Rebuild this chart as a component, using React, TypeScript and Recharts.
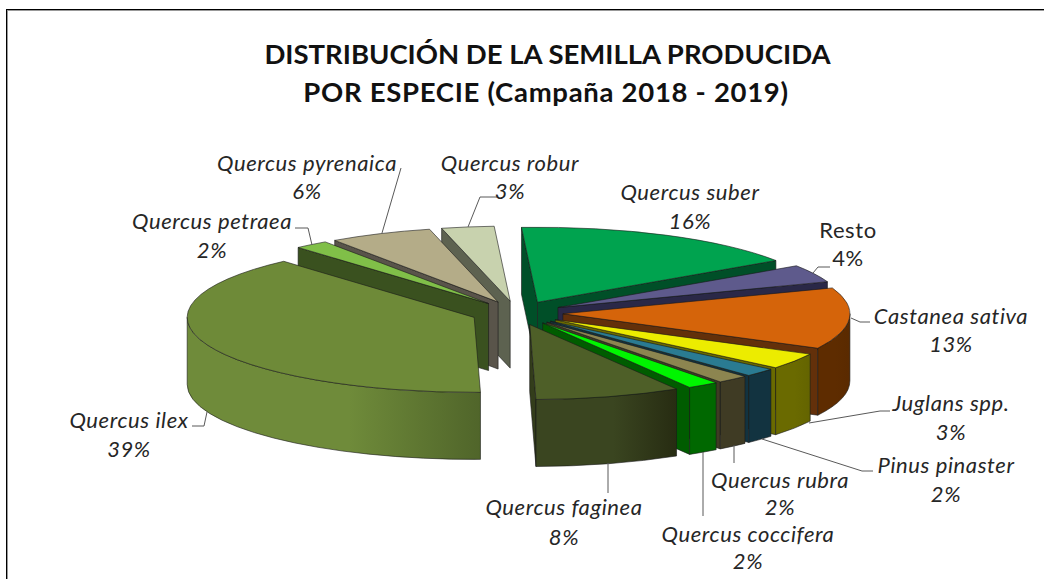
import { PieChart, Pie } from "recharts";

const species = [
  "Quercus suber",
  "Resto",
  "Castanea sativa",
  "Juglans spp.",
  "Pinus pinaster",
  "Quercus rubra",
  "Quercus coccifera",
  "Quercus faginea",
  "Quercus ilex",
  "Quercus petraea",
  "Quercus pyrenaica",
  "Quercus robur",
];
// the labels show them rounded
const shares = [16.49, 3.8, 13.2, 3.47, 1.8, 1.8, 1.78, 8.2, 38.8, 1.91, 5.8, 2.95];

const topColors = ["#00a34f", "#5e5a8c", "#d5640a", "#ecec00", "#2a7b92", "#8c8550", "#00f500", "#4e5f28", "#6e8a38", "#80bf48", "#b4ac88", "#c8d2ae"];
const faceColors = ["#004f28", "#2a2847", "#63300a", "#6a6a00", "#123340", "#3f3b24", "#005c00", "#333d1b", "#52672a", "#3a511f", "#59544a", "#5d6250"];
const wallLeft = ["#004f28", "#2a2847", "#5e2c00", "#6a6a00", "#123340", "#3f3b24", "#006800", "#3a4520", "#6f8b3a", "#3a511f", "#59544a", "#5d6250"];
const wallRight = ["#004f28", "#2a2847", "#5a2a00", "#646400", "#123340", "#3f3b24", "#006800", "#272c12", "#50652a", "#3a511f", "#59544a", "#5d6250"];

// label centre x, y of both text rows, then the leader line
const labelX = [690, 848, 951, 951, 946, 780, 748, 564, 129, 212, 307, 510];
const labelRow1 = [191, 229, 315, 402, 464, 479, 533, 506, 419, 220, 162, 162];
const labelRow2 = [220, 257, 343, 431, 493, 506, 560, 536, 448, 249, 190, 190];
const leaders = [
  "",
  "813,273 818,267 830,267",
  "851,318 860,322 870,322",
  "809,423 880,411 890,411",
  "762,439 862,471 873,471",
  "734,445 734,463",
  "703,452 703,516",
  "608,463 608,493",
  "207,412 204,426 192,426",
  "312,245 308,228 295,228",
  "382,233 401,168",
  "468,227 480,197 497,197",
];

const tableFwd = species.map((name, i) => ({ name, value: shares[i] }));
const tableRev = [...tableFwd].reverse();
const backLeft = new Set(species.slice(8));

const SQUASH = 0.2613;
const EXPLODE = 46;
const DEPTH = 67;
const rad = (d: number) => (d * Math.PI) / 180;

function Slice3D(props: any) {
  const { cx, cy, outerRadius: R, startAngle, endAngle, name } = props;
  const i = species.indexOf(name);
  const a = 90 - Math.max(startAngle, endAngle);
  const b = 90 - Math.min(startAngle, endAngle);
  const mid = (a + b) / 2;
  const ox = cx + EXPLODE * Math.sin(rad(mid));
  const oy = cy - EXPLODE * SQUASH * Math.cos(rad(mid));
  const px = (t: number) => ox + R * Math.sin(rad(t));
  const py = (t: number) => oy - R * SQUASH * Math.cos(rad(t));
  const ry = R * SQUASH;
  const arc = (t0: number, t1: number, dy: number, sweep: number) =>
    `A${R} ${ry} 0 ${Math.abs(t1 - t0) > 180 ? 1 : 0} ${sweep} ${px(t1)} ${py(t1) + dy}`;
  const face = (t: number) =>
    `M${ox} ${oy}L${px(t)} ${py(t)}L${px(t)} ${py(t) + DEPTH}L${ox} ${oy + DEPTH}Z`;
  const w0 = Math.max(a, 90);
  const w1 = Math.min(b, 270);
  const stroke = { stroke: "#1a1a1a", strokeWidth: 0.8, strokeOpacity: 0.75, strokeLinejoin: "round" as const };
  const gid = `wall-${i}-${props.tag}`;
  return (
    <g>
      <defs>
        <linearGradient id={gid} x1="0" x2="1" y1="0" y2="0">
          <stop offset="0%" stopColor={wallLeft[i]} />
          <stop offset="55%" stopColor={wallLeft[i]} />
          <stop offset="100%" stopColor={wallRight[i]} />
        </linearGradient>
      </defs>
      {Math.sin(rad(a)) < 0 && <path d={face(a)} fill={faceColors[i]} {...stroke} />}
      {Math.sin(rad(b)) > 0 && <path d={face(b)} fill={faceColors[i]} {...stroke} />}
      {w1 > w0 && (
        <path
          d={`M${px(w0)} ${py(w0)}${arc(w0, w1, 0, 1)}L${px(w1)} ${py(w1) + DEPTH}${arc(w1, w0, DEPTH, 0)}Z`}
          fill={`url(#${gid})`}
          {...stroke}
        />
      )}
      <path d={`M${ox} ${oy}L${px(a)} ${py(a)}${arc(a, b, 0, 1)}Z`} fill={topColors[i]} {...stroke} />
    </g>
  );
}

// right hand slices paint clockwise, left hand ones counter clockwise, so nearer slices cover the ones behind
const frontShape = (p: any) => (backLeft.has(p.name) ? <g /> : <Slice3D {...p} tag="r" />);
const backShape = (p: any) => (backLeft.has(p.name) ? <Slice3D {...p} tag="l" /> : <g />);

function renderLabel(p: any) {
  const i = species.indexOf(p.name);
  const fontStyle = p.name === "Resto" ? "normal" : "italic";
  const common = {
    x: labelX[i],
    textAnchor: "middle" as const,
    fontFamily: "Lato",
    fontSize: 22,
    letterSpacing: 0.6,
    fill: "#262626",
    dominantBaseline: "central" as const,
    style: { fontStyle },
  };
  return (
    <g key={p.name}>
      {leaders[i] && <polyline points={leaders[i]} fill="none" stroke="#595959" strokeWidth={1} />}
      <text {...common} y={labelRow1[i]}>{p.name}</text>
      <text {...common} y={labelRow2[i]}>{`${Math.round(p.value)}%`}</text>
    </g>
  );
}

const titleStyle = {
  position: "absolute" as const,
  left: 0,
  textAlign: "center" as const,
  fontFamily: "Lato",
  fontWeight: 700,
  fontSize: 27.5,
  lineHeight: "38px",
  color: "#111",
  whiteSpace: "nowrap" as const,
};

export default function App() {
  return (
    <div style={{ position: "absolute", left: 0, top: 0, width: 1044, height: 579, background: "#fff", overflow: "hidden" }}>
      <div
        style={{
          position: "absolute",
          left: 6,
          top: 9,
          width: 1100,
          height: 620,
          borderTop: "1px solid #000",
          borderLeft: "1px solid #000",
          boxShadow: "inset 1px 1px 0 #999",
        }}
      />
      <div style={{ ...titleStyle, top: 35, width: 1095 }}>DISTRIBUCIÓN DE LA SEMILLA PRODUCIDA</div>
      <div style={{ ...titleStyle, top: 73, width: 1092, letterSpacing: 0.7 }}>POR ESPECIE (Campaña 2018 - 2019)</div>
      <div style={{ position: "absolute", left: 0, top: 0 }}>
        <PieChart width={1044} height={579} margin={{ top: 0, right: 0, bottom: 0, left: 0 }}>
          <Pie
            data={tableFwd}
            dataKey="value"
            nameKey="name"
            cx={517}
            cy={313}
            innerRadius={0}
            outerRadius={287}
            startAngle={93.2}
            endAngle={-266.8}
            stroke="none"
            shape={frontShape}
            labelLine={false}
            isAnimationActive={false}
          />
          <Pie
            data={tableRev}
            dataKey="value"
            nameKey="name"
            cx={517}
            cy={313}
            innerRadius={0}
            outerRadius={287}
            startAngle={-266.8}
            endAngle={93.2}
            stroke="none"
            shape={backShape}
            label={renderLabel}
            labelLine={false}
            isAnimationActive={false}
          />
        </PieChart>
      </div>
    </div>
  );
}
